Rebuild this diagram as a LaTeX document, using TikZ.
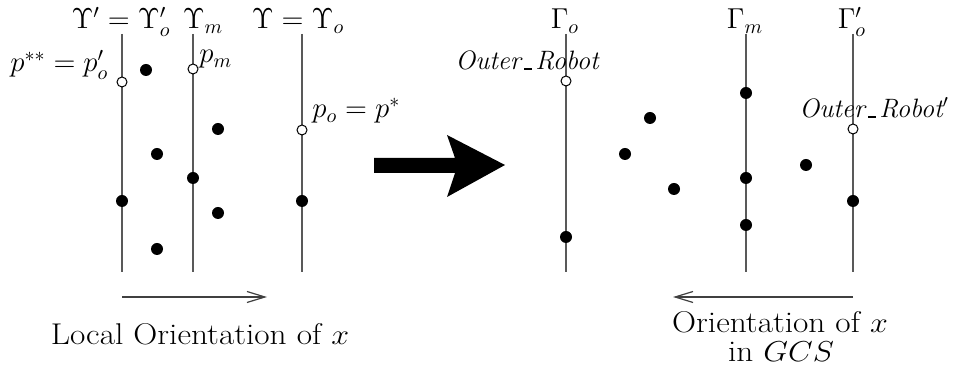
\documentclass[tikz,border=0pt]{standalone}
\usetikzlibrary{arrows.meta}
\newcommand{\usc}{\kern0.12em\rule{0.3em}{0.07em}\kern0.12em}
\newcommand{\widetxt}[1]{\scalebox{1.11}[1]{#1}}
\begin{document}
\begin{tikzpicture}[x=0.5pt,y=-0.5pt,
  axis/.style={draw=black!65,line width=0.6pt},
  fdot/.style={circle,fill=black,inner sep=0pt,minimum size=6pt},
  odot/.style={circle,draw=black,fill=white,line width=0.5pt,inner sep=0pt,minimum size=5pt},
  lbl/.style={inner sep=0pt,font=\fontsize{14.4}{17}\selectfont},
  rlbl/.style={inner sep=0pt,font=\fontsize{13.3}{16}\selectfont\itshape},
  txt/.style={inner sep=0pt,font=\fontsize{15}{18}\selectfont},
  orient/.style={draw=black!75,line width=0.6pt,-{Straight Barb[length=9pt,width=5.5pt]}},
  bigarrow/.style={fill=black}]
\useasboundingbox (0,0) rectangle (954,378);
% axes
\foreach \n/\x in {la/122,lb/193,lc/302,ra/566,rb/746,rc/853}{
  \coordinate (\n t) at (\x,34);
  \coordinate (\n b) at (\x,272);
  \draw[axis] (\n t) -- (\n b);
}
% axis labels
\node[lbl,anchor=base] (tla) at (121,29) {$\Upsilon' = \Upsilon'_o$};
\node[lbl,anchor=base] (tlb) at (203,29) {$\Upsilon_m$};
\node[lbl,anchor=base] (tlc) at (298,29) {$\Upsilon = \Upsilon_o$};
\node[lbl,anchor=base] (tra) at (565,29) {$\Gamma_o$};
\node[lbl,anchor=base] (trb) at (745,29) {$\Gamma_m$};
\node[lbl,anchor=base] (trc) at (852,29) {$\Gamma'_o$};
% left points
\node[odot] (p1) at (122,82) {};
\node[fdot] (p2) at (146,70) {};
\node[odot] (p3) at (193,69) {};
\node[fdot] (p4) at (218,129) {};
\node[fdot] (p5) at (157,154) {};
\node[fdot] (p6) at (193,178) {};
\node[odot] (p7) at (302,130) {};
\node[fdot] (p8) at (122,201) {};
\node[fdot] (p9) at (218,213) {};
\node[fdot] (p10) at (302,201) {};
\node[fdot] (p11) at (157,249) {};
\node[lbl,anchor=base west] (lp1) at (10,72) {$p^{**} = p'_o$};
\node[lbl,anchor=base west] (lp3) at (199,63) {$p_m$};
\node[lbl,anchor=base west] (lp7) at (312,118) {$p_o = p^{*}$};
% right points
\node[odot] (q1) at (566,81) {};
\node[fdot] (q2) at (566,237) {};
\node[fdot] (q3) at (650,118) {};
\node[fdot] (q4) at (625,154) {};
\node[fdot] (q5) at (674,189) {};
\node[fdot] (q6) at (746,93) {};
\node[fdot] (q7) at (746,178) {};
\node[fdot] (q8) at (746,225) {};
\node[fdot] (q9) at (806,165) {};
\node[odot] (q10) at (853,129) {};
\node[fdot] (q11) at (853,201) {};
\node[rlbl,anchor=base west] (lq1) at (455,70) {Outer\usc Robot};
\node[rlbl,anchor=base west] (lq10) at (799,118) {Outer\usc Robot$'$};
% big arrow
\fill[bigarrow] (374,158) -- (455,158) -- (447,135) -- (505,165) -- (447,197) -- (455,173) -- (374,173) -- cycle;
% orientation arrows
\coordinate (oa1) at (122,297);
\coordinate (oa2) at (267,297);
\draw[orient] (oa1) -- (oa2);
\coordinate (ob1) at (853,297);
\coordinate (ob2) at (673,297);
\draw[orient] (ob1) -- (ob2);
\node[txt,anchor=base] (t1) at (200,345) {\widetxt{Local Orientation of $x$}};
\node[txt,anchor=base] (t2) at (780,333) {\widetxt{Orientation of $x$}};
\node[txt,anchor=base] (t3) at (781,362) {\widetxt{in $GCS$}};
\end{tikzpicture}
\end{document}
